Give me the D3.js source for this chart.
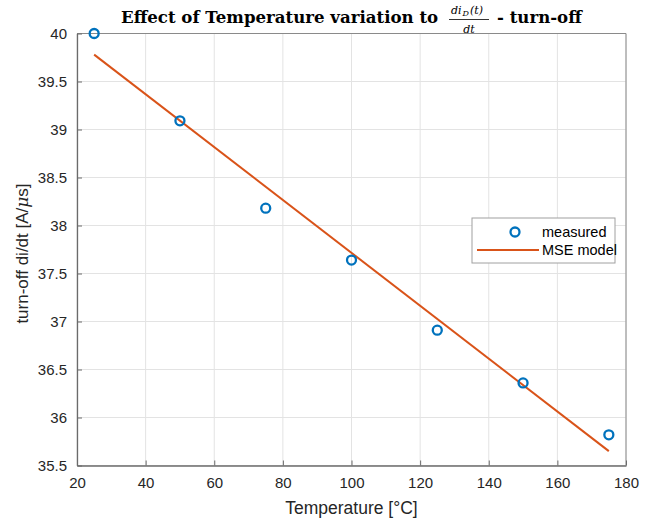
<!DOCTYPE html>
<html>
<head>
<meta charset="utf-8">
<script src="https://cdn.jsdelivr.net/npm/d3@7"></script>
<style>
  body { margin: 0; background: #fff; }
  svg { display: block; }
</style>
</head>
<body>
<div id="chart"></div>
<script>

const width = 652 ;
const height = 522 ;

// measured points
const temps = [25, 50, 75, 100, 125, 150, 175] ;
const measured = [40.0, 39.09, 38.18, 37.64, 36.91, 36.36, 35.82] ;
// MSE model line values at the same temperatures
const model = [39.78, 39.09, 38.40, 37.71, 37.03, 36.34, 35.65] ;

const xTicks = [20, 40, 60, 80, 100, 120, 140, 160, 180] ;
const yTicks = [35.5, 36, 36.5, 37, 37.5, 38, 38.5, 39, 39.5, 40] ;

const blue = "#0072BD" ;
const orange = "#D95319" ;

const margin = { left: 77, right: 26, top: 33.5, bottom: 56.5 } ;

const svg = d3.select("#chart").append("svg")
	.attr("width", width)
	.attr("height", height)

const x = d3.scaleLinear().domain([20, 180]).range([margin.left, width - margin.right]) ;
const y = d3.scaleLinear().domain([35.5, 40]).range([height - margin.bottom, margin.top]) ;

const x0 = x.range()[0], x1 = x.range()[1] ;
const y0 = y.range()[0], y1 = y.range()[1] ;

// grid
const grid = svg.append("g").attr("class", "grid")
grid.selectAll("line.gx")
	.data( xTicks )
	.enter().append("line")
		.attr("x1", d => x(d) ).attr("x2", d => x(d) )
		.attr("y1", y0).attr("y2", y1)
		.attr("stroke", "#e3e3e3").attr("stroke-width", 1)
grid.selectAll("line.gy")
	.data( yTicks )
	.enter().append("line")
		.attr("y1", d => y(d) ).attr("y2", d => y(d) )
		.attr("x1", x0).attr("x2", x1)
		.attr("stroke", "#e3e3e3").attr("stroke-width", 1)

// box top / right
svg.append("path")
	.attr("d", `M${x0},${y1}H${x1}V${y0}`)
	.attr("fill", "none").attr("stroke", "#8a8a8a").attr("stroke-width", 1)

// axes
const xAxis = svg.append("g")
	.attr("transform", `translate(0,${y0})`)
	.call( d3.axisBottom(x).tickValues(xTicks).tickSize(-5).tickPadding(12).tickSizeOuter(0) )
const yAxis = svg.append("g")
	.attr("transform", `translate(${x0},0)`)
	.call( d3.axisLeft(y).tickValues(yTicks).tickSize(-5).tickPadding(10).tickSizeOuter(0)
		.tickFormat( d3.format("") ) )

for (const ax of [xAxis, yAxis]) {
	ax.select(".domain").attr("stroke", "#6b6b6b").attr("stroke-width", 1.3)
	ax.selectAll(".tick line").attr("stroke", "#6b6b6b")
	ax.selectAll(".tick text")
		.attr("fill", "#262626")
		.attr("font-family", "Liberation Sans, Arial, sans-serif")
		.attr("font-size", 15)
}
xAxis.selectAll(".tick text").attr("dy", "0.71em")

// model line, drawn between first and last temperature
svg.append("path")
	.datum( [ [temps[0], model[0]], [temps[temps.length-1], model[model.length-1]] ] )
	.attr("d", d3.line().x( d => x(d[0]) ).y( d => y(d[1]) ))
	.attr("fill", "none")
	.attr("stroke", orange)
	.attr("stroke-width", 2)

// measured markers
svg.selectAll("circle.pt")
	.data( measured )
	.enter().append("circle")
		.attr("cx", (d, i) => x(temps[i]) )
		.attr("cy", d => y(d) )
		.attr("r", 4.5)
		.attr("fill", "none")
		.attr("stroke", blue)
		.attr("stroke-width", 2.3)

// axis labels
svg.append("text")
	.attr("x", (x0 + x1) / 2).attr("y", 514)
	.attr("text-anchor", "middle")
	.attr("font-family", "Liberation Sans, Arial, sans-serif")
	.attr("font-size", 17.5)
	.attr("fill", "#262626")
	.text("Temperature [°C]")

const yl = svg.append("text")
	.attr("transform", `translate(28,${(y0 + y1) / 2 + 4}) rotate(-90)`)
	.attr("text-anchor", "middle")
	.attr("font-family", "Liberation Sans, Arial, sans-serif")
	.attr("font-size", 17)
	.attr("fill", "#262626")
yl.append("tspan").text("turn-off di/dt [A/")
yl.append("tspan").attr("font-family", "DejaVu Serif, serif").attr("font-style", "italic").text("μ")
yl.append("tspan").text("s]")

// title
const title = svg.append("g")
const tFont = "DejaVu Serif, serif" ;
title.append("text")
	.attr("x", 121).attr("y", 23).attr("font-family", tFont).attr("font-weight", "bold")
	.attr("font-size", 16.6).attr("fill", "#000")
	.text("Effect of Temperature variation to")
// fraction d i_D(t) / dt, each piece its own text
const fracTop = 14
title.append("text").attr("x", 451).attr("y", fracTop).attr("font-family", tFont)
	.attr("font-style", "italic").attr("font-size", 11).text("di")
title.append("text").attr("x", 462.5).attr("y", fracTop + 2).attr("font-family", tFont)
	.attr("font-style", "italic").attr("font-size", 8).text("D")
title.append("text").attr("x", 470).attr("y", fracTop).attr("font-family", tFont)
	.attr("font-style", "italic").attr("font-size", 11).text("(t)")
title.append("text").attr("x", 469).attr("y", 32.5).attr("font-family", tFont).attr("font-style", "italic")
	.attr("font-size", 11).attr("text-anchor", "middle").text("dt")
title.append("line").attr("x1", 449).attr("x2", 489).attr("y1", 19.5).attr("y2", 19.5)
	.attr("stroke", "#000").attr("stroke-width", 0.8)
title.append("text")
	.attr("x", 497).attr("y", 23).attr("font-family", tFont).attr("font-weight", "bold")
	.attr("font-size", 16.6).attr("fill", "#000")
	.text("- turn-off")

// legend
const lg = svg.append("g").attr("transform", "translate(472,218)")
lg.append("rect").attr("width", 143).attr("height", 45)
	.attr("fill", "#fff").attr("stroke", "#a0a0a0").attr("stroke-width", 1)
lg.append("circle").attr("cx", 43).attr("cy", 14).attr("r", 4.5)
	.attr("fill", "none").attr("stroke", blue).attr("stroke-width", 2.3)
lg.append("line").attr("x1", 5).attr("x2", 67).attr("y1", 32).attr("y2", 32)
	.attr("stroke", orange).attr("stroke-width", 2)
lg.selectAll("text.lab")
	.data( ["measured", "MSE model"] )
	.enter().append("text")
		.attr("x", 70).attr("y", (d, i) => 19 + i * 18)
		.attr("font-family", "Liberation Sans, Arial, sans-serif")
		.attr("font-size", 14.5)
		.attr("fill", "#000")
		.text( d => d )

</script>
</body>
</html>
